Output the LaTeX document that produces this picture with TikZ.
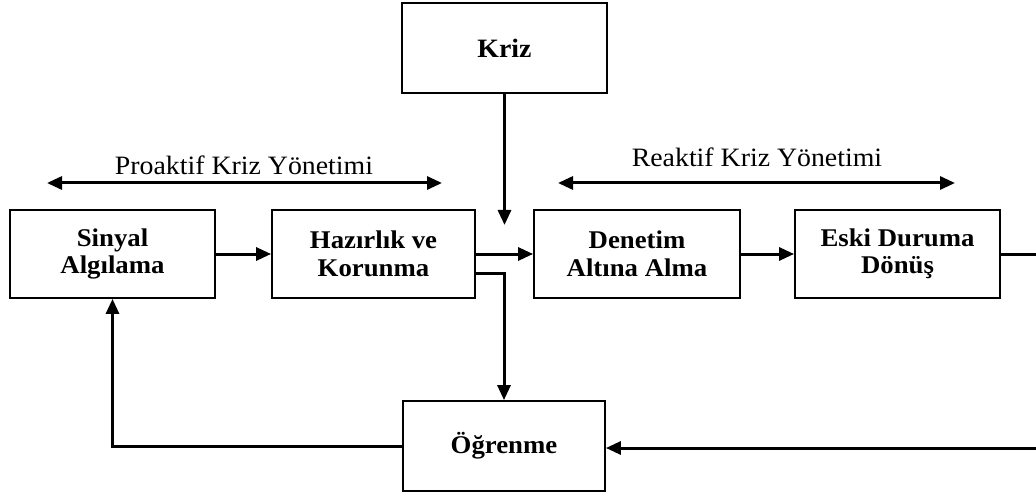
\documentclass[tikz,border=0pt]{standalone}
\usepackage{fontspec}
\setmainfont{Liberation Serif}[FakeStretch=1.05]
\usetikzlibrary{arrows.meta}
\begin{document}
\begin{tikzpicture}[x=1pt,y=-1pt,
  box/.style={draw, line width=1.8pt, minimum width=#1, minimum height=88pt,
    inner sep=0pt, align=center, font=\fontsize{25.5}{27.5}\selectfont\bfseries},
  conn/.style={line width=3pt, -{Triangle[length=15pt,width=13pt]}},
  dconn/.style={line width=3pt, {Triangle[length=15pt,width=13pt]}-{Triangle[length=15pt,width=13pt]}},
  lbl/.style={inner sep=0pt, font=\fontsize{26.5}{28}\selectfont}]
\useasboundingbox (0,0) rectangle (1036,497);
\clip (0,0) rectangle (1036,497);

\node[box=205pt, minimum height=90pt, font=\fontsize{26.5}{28}\selectfont\bfseries] (kriz) at (504.5,48) {Kriz};
\node[box=205pt] (sinyal) at (112.5,254) {Sinyal\\Algılama};
\node[box=203pt] (hazir) at (373.5,254) {Hazırlık ve\\Korunma};
\node[box=206pt] (denetim) at (637,254) {Denetim\\Altına Alma};
\node[box=205pt] (eski) at (897.5,254) {Eski Duruma\\Dönüş};
\node[box=202pt, minimum height=90pt] (ogr) at (504,446) {Öğrenme};

\node[lbl, anchor=base] (plbl) at (244,175) {Proaktif Kriz Yönetimi};
\node[lbl, anchor=base] (rlbl) at (757,167) {Reaktif Kriz Yönetimi};

\coordinate (p1) at (47,183);
\coordinate (p2) at (442,183);
\coordinate (r1) at (558,183);
\coordinate (r2) at (955,183);
\draw[dconn] (p1) -- (p2);
\draw[dconn] (r1) -- (r2);

\coordinate (kt) at (504.5,225);
\draw[conn] (kriz.south) -- (kt);

\draw[conn] (sinyal.east) -- (hazir.west);
\draw[conn] (hazir.east) -- (denetim.west);
\draw[conn] (denetim.east) -- (eski.west);
\draw[conn] ([yshift=-19pt]hazir.east) -| (ogr.north);
\draw[conn] (ogr.west) -| (sinyal.south);

\coordinate (out) at (1046,254);
\draw[conn] (eski.east) -- (out) |- ([yshift=-2pt]ogr.east);
\end{tikzpicture}
\end{document}
